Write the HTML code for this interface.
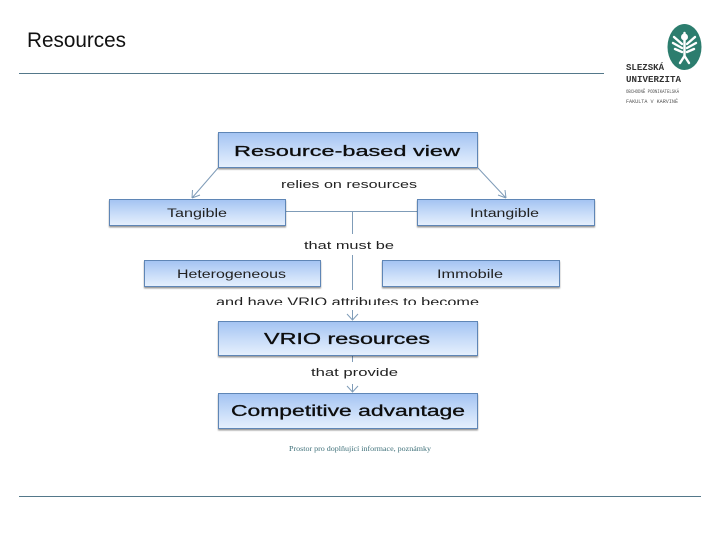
<!DOCTYPE html>
<html lang="en">
<head>
<meta charset="utf-8">
<title>Resources</title>
<style>
html,body{margin:0;padding:0;background:#fff}
svg{display:block}
text{font-family:"Liberation Sans",sans-serif}
</style>
</head>
<body>
<svg width="720" height="540" viewBox="0 0 720 540" xmlns="http://www.w3.org/2000/svg">
<defs>
<linearGradient id="g" x1="0" y1="0" x2="0" y2="1">
<stop offset="0" stop-color="#a3c3f2"/>
<stop offset="0.55" stop-color="#c9ddf9"/>
<stop offset="1" stop-color="#e6f0fd"/>
</linearGradient>
<filter id="s" x="-5%" y="-10%" width="110%" height="130%">
<feDropShadow dx="0" dy="1.500" stdDeviation="0.800" flood-color="#000" flood-opacity="0.4"/>
</filter>
<filter id="b" x="-5%" y="-20%" width="110%" height="140%">
<feGaussianBlur stdDeviation="0.350"/>
</filter>
<clipPath id="cut"><rect x="200" y="290" width="300" height="15"/></clipPath>
</defs>
<rect width="720" height="540" fill="#fff"/>

<text x="27" y="47" font-size="21" fill="#111" textLength="99" lengthAdjust="spacingAndGlyphs">Resources</text>
<line x1="19" y1="73.500" x2="604" y2="73.500" stroke="#54788a" stroke-width="1"/>
<line x1="19" y1="496.500" x2="701" y2="496.500" stroke="#54788a" stroke-width="1"/>

<!-- logo -->
<ellipse cx="684.500" cy="47" rx="17" ry="23" fill="#2c7d6e"/>
<g stroke="#fff" stroke-width="2.400" fill="none" stroke-linecap="round" filter="url(#b)">
<path d="M684.500 33V56"/>
<path d="M674 37L682 44M673 43L682 48M675 49L682 52"/>
<path d="M695 37L687 44M696 43L687 48M694 49L687 52"/>
<path d="M680 63L684.500 56L689 63"/>
</g>
<ellipse cx="684.500" cy="37" rx="3.500" ry="3.500" fill="#fff"/>
<g filter="url(#b)">
<text x="626" y="70" font-size="9" font-weight="bold" fill="#333" textLength="38" lengthAdjust="spacingAndGlyphs" style="font-family:'Liberation Mono',monospace">SLEZSKÁ</text>
<text x="626" y="82" font-size="9" font-weight="bold" fill="#333" textLength="55" lengthAdjust="spacingAndGlyphs" style="font-family:'Liberation Mono',monospace">UNIVERZITA</text>
<text x="626" y="93" font-size="5.500" fill="#555" textLength="53" lengthAdjust="spacingAndGlyphs" style="font-family:'Liberation Mono',monospace">OBCHODNĚ PODNIKATELSKÁ</text>
<text x="626" y="103" font-size="5.500" fill="#555" textLength="52" lengthAdjust="spacingAndGlyphs" style="font-family:'Liberation Mono',monospace">FAKULTA V KARVINÉ</text>
</g>

<!-- connectors -->
<g stroke="#7f9cb8" stroke-width="1" fill="none">
<path d="M218 168L192 198M192 198L192.500 190M192 198L200 195"/>
<path d="M478 168L506 198M506 198L505 190M506 198L498 195"/>
<path d="M286 211.500H417"/>
<path d="M352.500 211.500V234M352.500 255V290M352.500 310V320"/>
<path d="M347 314L352.500 320L358 314"/>
<path d="M352.500 356V362M352.500 384V392"/>
<path d="M347 386L352.500 392L358 386"/>
</g>

<!-- boxes -->
<g fill="url(#g)" stroke="#5f86b6" stroke-width="1" filter="url(#s)">
<rect x="218.500" y="132.500" width="259" height="35"/>
<rect x="109.500" y="199.500" width="176" height="26"/>
<rect x="417.500" y="199.500" width="177" height="26"/>
<rect x="144.500" y="260.500" width="176" height="26"/>
<rect x="382.500" y="260.500" width="177" height="26"/>
<rect x="218.500" y="321.500" width="259" height="34"/>
<rect x="218.500" y="393.500" width="259" height="35"/>
</g>

<!-- box labels -->
<g fill="#111" stroke="#111" stroke-width="0.300" filter="url(#b)">
<text x="234" y="156" font-size="15" textLength="226" lengthAdjust="spacingAndGlyphs">Resource-based view</text>
<text x="264" y="344" font-size="15.500" textLength="166" lengthAdjust="spacingAndGlyphs">VRIO resources</text>
<text x="231" y="416" font-size="15.500" textLength="234" lengthAdjust="spacingAndGlyphs">Competitive advantage</text>
</g>
<g fill="#222" filter="url(#b)">
<text x="167" y="217" font-size="11.500" textLength="60" lengthAdjust="spacingAndGlyphs">Tangible</text>
<text x="470" y="217" font-size="11.500" textLength="69" lengthAdjust="spacingAndGlyphs">Intangible</text>
<text x="177" y="278" font-size="11.500" textLength="109" lengthAdjust="spacingAndGlyphs">Heterogeneous</text>
<text x="437" y="278" font-size="11.500" textLength="66" lengthAdjust="spacingAndGlyphs">Immobile</text>
</g>

<!-- connector labels -->
<g fill="#222" filter="url(#b)">
<text x="281" y="188" font-size="11" textLength="136" lengthAdjust="spacingAndGlyphs">relies on resources</text>
<text x="304" y="249" font-size="11" textLength="90" lengthAdjust="spacingAndGlyphs">that must be</text>
<g clip-path="url(#cut)"><text x="216" y="306" font-size="11.500" textLength="263" lengthAdjust="spacingAndGlyphs">and have VRIO attributes to become</text></g>
<text x="311" y="376" font-size="11" textLength="87" lengthAdjust="spacingAndGlyphs">that provide</text>
</g>

<text x="289" y="451" font-size="7.500" fill="#3d6f78" textLength="142" lengthAdjust="spacingAndGlyphs" style='font-family:"Liberation Serif",serif'>Prostor pro doplňující informace, poznámky</text>
</svg>
</body>
</html>
